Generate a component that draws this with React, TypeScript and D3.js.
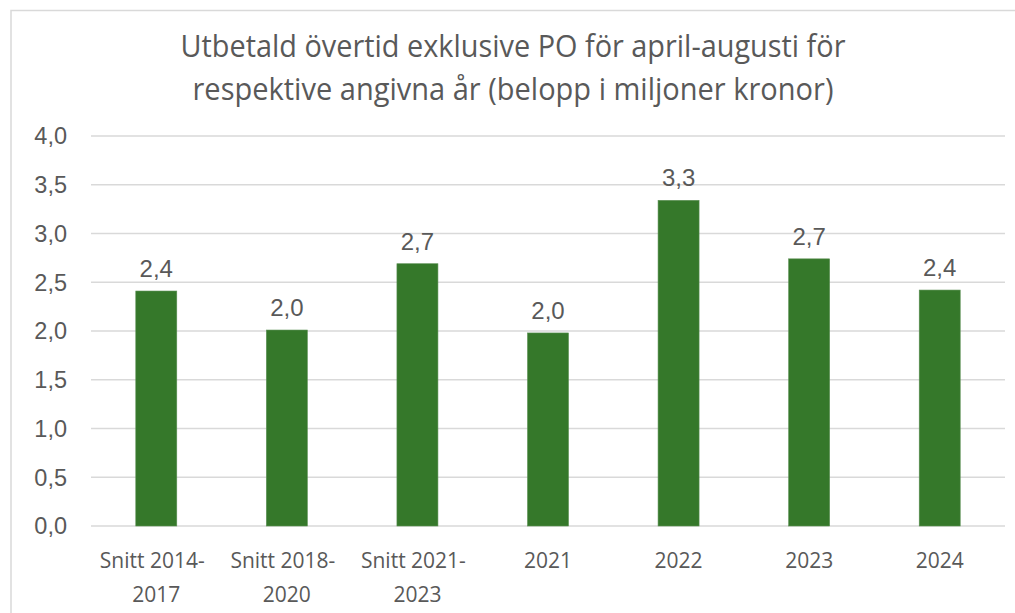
import React from "react";
import * as d3 from "d3";

const categories: string[][] = [
  ["Snitt 2014-", "2017"],
  ["Snitt 2018-", "2020"],
  ["Snitt 2021-", "2023"],
  ["2021"],
  ["2022"],
  ["2023"],
  ["2024"],
];
const values: number[] = [2.41, 2.01, 2.69, 1.98, 3.34, 2.74, 2.42];
const yTicks: number[] = [0, 0.5, 1, 1.5, 2, 2.5, 3, 3.5, 4];
const titleLines: string[] = [
  "Utbetald övertid exklusive PO för april-augusti för",
  "respektive angivna år (belopp i miljoner kronor)",
];

const W = 1015;
const H = 613;
const plot = { left: 91, right: 1005, top: 136, bottom: 526 };
const TEXT = "#595959";
const GRID = "#d9d9d9";
const BAR = "#35782a";

const fmt = (v: number) => d3.format(".1f")(v).replace(".", ",");

export default function App() {
  const keys = categories.map((c, i) => String(i));
  const x = d3
    .scaleBand<string>()
    .domain(keys)
    .range([plot.left, plot.right])
    .paddingInner(0.686)
    .paddingOuter(0.343);
  const y = d3.scaleLinear().domain([0, 4]).range([plot.bottom, plot.top]);

  return (
    <svg
      width={W}
      height={H}
      style={{ position: "absolute", left: 0, top: 0, background: "#fff" }}
    >
      <rect x={11} y={10.5} width={W + 10} height={H + 10} fill="#fff" stroke={GRID} strokeWidth={1.5} />
      {titleLines.map((t, i) => (
        <text
          key={i}
          x={(W + 11) / 2}
          y={57 + i * 43}
          textAnchor="middle"
          fill={TEXT}
          fontFamily="'Liberation Sans Narrow', 'Open Sans', sans-serif"
          fontSize={31}
          textLength={i === 0 ? 665 : 641}
          lengthAdjust="spacingAndGlyphs"
        >
          {t}
        </text>
      ))}
      {yTicks.map((t) => (
        <g key={t}>
          <line
            x1={plot.left}
            x2={plot.right}
            y1={y(t)}
            y2={y(t)}
            stroke={GRID}
            strokeWidth={1.5}
          />
          <text
            x={67}
            y={y(t)}
            dy="0.36em"
            textAnchor="end"
            fill={TEXT}
            fontFamily="'Liberation Sans', Arial, sans-serif"
            fontSize={23.5}
          >
            {fmt(t)}
          </text>
        </g>
      ))}
      {values.map((v, i) => {
        const bx = x(String(i))!;
        const bw = x.bandwidth();
        return (
          <g key={i}>
            <rect
              x={bx}
              y={y(v)}
              width={bw}
              height={plot.bottom - y(v)}
              fill={BAR}
              stroke="#5a8f52"
              strokeWidth={0.6}
            />
            <text
              x={bx + bw / 2}
              y={y(v) - 14}
              textAnchor="middle"
              fill={TEXT}
              fontFamily="'Liberation Sans', Arial, sans-serif"
              fontSize={24}
            >
              {fmt(v)}
            </text>
          </g>
        );
      })}
      {categories.map((lines, i) => {
        const cx = x(String(i))! + x.bandwidth() / 2;
        return (
          <text
            key={i}
            textAnchor="middle"
            fill={TEXT}
            fontFamily="'Open Sans', sans-serif"
            fontSize={21}
          >
            {lines.map((l, j) => (
              <tspan key={j} x={cx} dx={l.endsWith("-") ? -4 : 0} y={568 + j * 33.5}>
                {l}
              </tspan>
            ))}
          </text>
        );
      })}
    </svg>
  );
}
